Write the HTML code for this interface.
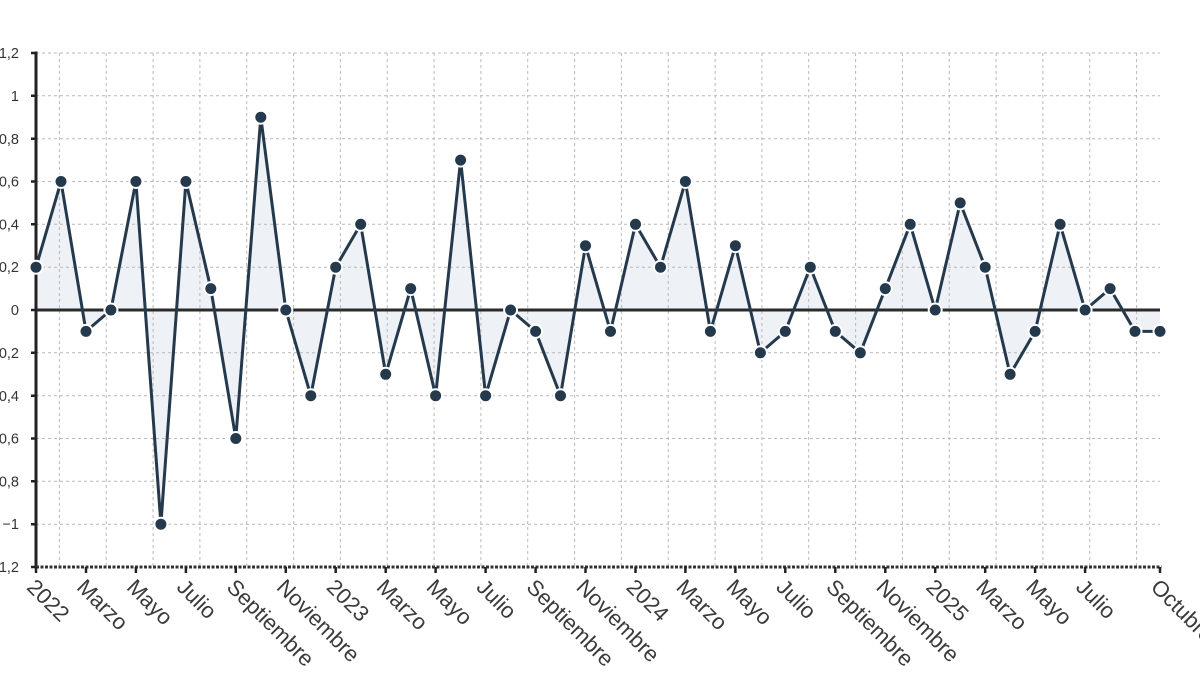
<!DOCTYPE html>
<html><head><meta charset="utf-8"><style>
html,body{margin:0;padding:0;background:#fff;width:1200px;height:675px;overflow:hidden}
svg{display:block}
text{font-family:"Liberation Sans",Arial,sans-serif}
</style></head><body>
<svg width="1200" height="675" viewBox="0 0 1200 675" xmlns="http://www.w3.org/2000/svg">
<!-- fill -->
<path fill="#eef1f5" d="M36,310 L36,267.2 L61,181.5 L86,331.4 L110.9,310 L135.9,181.5 L160.9,524.2 L185.9,181.5 L210.8,288.6 L235.8,438.5 L260.8,117.2 L285.8,310 L310.8,395.7 L335.7,267.2 L360.7,224.3 L385.7,374.3 L410.7,288.6 L435.6,395.7 L460.6,160.1 L485.6,395.7 L510.6,310 L535.6,331.4 L560.5,395.7 L585.5,245.7 L610.5,331.4 L635.5,224.3 L660.5,267.2 L685.4,181.5 L710.4,331.4 L735.4,245.7 L760.4,352.8 L785.3,331.4 L810.3,267.2 L835.3,331.4 L860.3,352.8 L885.3,288.6 L910.2,224.3 L935.2,310 L960.2,202.9 L985.2,267.2 L1010.1,374.3 L1035.1,331.4 L1060.1,224.3 L1085.1,310 L1110.1,288.6 L1135,331.4 L1160,331.4 L1160,310 Z"/>
<!-- grid -->
<g stroke="#b9b9b9" stroke-width="1" stroke-dasharray="3,3" fill="none">
<path d="M36,53H1160M36,95.8H1160M36,138.7H1160M36,181.5H1160M36,224.3H1160M36,267.2H1160M36,352.8H1160M36,395.7H1160M36,438.5H1160M36,481.3H1160M36,524.2H1160"/>
<path d="M59.4,53V567M106.2,53V567M153.1,53V567M199.9,53V567M246.7,53V567M293.6,53V567M340.4,53V567M387.2,53V567M434.1,53V567M480.9,53V567M527.7,53V567M574.6,53V567M621.4,53V567M668.2,53V567M715.1,53V567M761.9,53V567M808.7,53V567M855.6,53V567M902.4,53V567M949.2,53V567M996.1,53V567M1042.9,53V567M1089.7,53V567M1136.6,53V567"/>
</g>
<!-- zero line -->
<line x1="36" y1="310" x2="1160" y2="310" stroke="#2b2b2b" stroke-width="3"/>
<!-- axes -->
<line x1="36" y1="51.5" x2="36" y2="568.5" stroke="#222" stroke-width="3"/>
<line x1="36" y1="567" x2="1161.5" y2="567" stroke="#333" stroke-width="3" stroke-dasharray="3,1.5"/>
<g stroke="#222" stroke-width="2.5">
<path d="M31,53H36M31,95.8H36M31,138.7H36M31,181.5H36M31,224.3H36M31,267.2H36M31,310H36M31,352.8H36M31,395.7H36M31,438.5H36M31,481.3H36M31,524.2H36M31,567H36"/>
<path d="M36,567V573M86,567V573M135.9,567V573M185.9,567V573M235.8,567V573M285.8,567V573M335.7,567V573M385.7,567V573M435.6,567V573M485.6,567V573M535.6,567V573M585.5,567V573M635.5,567V573M685.4,567V573M735.4,567V573M785.3,567V573M835.3,567V573M885.3,567V573M935.2,567V573M985.2,567V573M1035.1,567V573M1085.1,567V573M1160,567V573"/>
</g>
<!-- y labels -->
<g font-size="14.5" fill="#333" text-anchor="end">
<text x="19" y="58">1,2</text>
<text x="19" y="101">1</text>
<text x="19" y="144">0,8</text>
<text x="19" y="186.5">0,6</text>
<text x="19" y="229.5">0,4</text>
<text x="19" y="272">0,2</text>
<text x="19" y="315">0</text>
<text x="19" y="358">−0,2</text>
<text x="19" y="401">−0,4</text>
<text x="19" y="443.5">−0,6</text>
<text x="19" y="486.5">−0,8</text>
<text x="19" y="529">−1</text>
<text x="19" y="572">−1,2</text>
</g>
<!-- x labels -->
<g font-size="22" fill="#3a3a3a">
<text transform="translate(37,577) rotate(45)" y="16">2022</text>
<text transform="translate(87,577) rotate(45)" y="16">Marzo</text>
<text transform="translate(136.9,577) rotate(45)" y="16">Mayo</text>
<text transform="translate(186.9,577) rotate(45)" y="16">Julio</text>
<text transform="translate(236.8,577) rotate(45)" y="16">Septiembre</text>
<text transform="translate(286.8,577) rotate(45)" y="16">Noviembre</text>
<text transform="translate(336.7,577) rotate(45)" y="16">2023</text>
<text transform="translate(386.7,577) rotate(45)" y="16">Marzo</text>
<text transform="translate(436.6,577) rotate(45)" y="16">Mayo</text>
<text transform="translate(486.6,577) rotate(45)" y="16">Julio</text>
<text transform="translate(536.6,577) rotate(45)" y="16">Septiembre</text>
<text transform="translate(586.5,577) rotate(45)" y="16">Noviembre</text>
<text transform="translate(636.5,577) rotate(45)" y="16">2024</text>
<text transform="translate(686.4,577) rotate(45)" y="16">Marzo</text>
<text transform="translate(736.4,577) rotate(45)" y="16">Mayo</text>
<text transform="translate(786.3,577) rotate(45)" y="16">Julio</text>
<text transform="translate(836.3,577) rotate(45)" y="16">Septiembre</text>
<text transform="translate(886.3,577) rotate(45)" y="16">Noviembre</text>
<text transform="translate(936.2,577) rotate(45)" y="16">2025</text>
<text transform="translate(986.2,577) rotate(45)" y="16">Marzo</text>
<text transform="translate(1036.1,577) rotate(45)" y="16">Mayo</text>
<text transform="translate(1086.1,577) rotate(45)" y="16">Julio</text>
<text transform="translate(1161,577) rotate(45)" y="16">Octubre</text>
</g>
<!-- line -->
<polyline fill="none" stroke="#25394d" stroke-width="3" stroke-linejoin="miter" points="36,267.2 61,181.5 86,331.4 110.9,310 135.9,181.5 160.9,524.2 185.9,181.5 210.8,288.6 235.8,438.5 260.8,117.2 285.8,310 310.8,395.7 335.7,267.2 360.7,224.3 385.7,374.3 410.7,288.6 435.6,395.7 460.6,160.1 485.6,395.7 510.6,310 535.6,331.4 560.5,395.7 585.5,245.7 610.5,331.4 635.5,224.3 660.5,267.2 685.4,181.5 710.4,331.4 735.4,245.7 760.4,352.8 785.3,331.4 810.3,267.2 835.3,331.4 860.3,352.8 885.3,288.6 910.2,224.3 935.2,310 960.2,202.9 985.2,267.2 1010.1,374.3 1035.1,331.4 1060.1,224.3 1085.1,310 1110.1,288.6 1135,331.4 1160,331.4"/>
<!-- markers -->
<g fill="#25394d" stroke="#fff" stroke-width="2">
<circle cx="36" cy="267.2" r="6.5"/><circle cx="61" cy="181.5" r="6.5"/><circle cx="86" cy="331.4" r="6.5"/><circle cx="110.9" cy="310" r="6.5"/><circle cx="135.9" cy="181.5" r="6.5"/><circle cx="160.9" cy="524.2" r="6.5"/><circle cx="185.9" cy="181.5" r="6.5"/><circle cx="210.8" cy="288.6" r="6.5"/><circle cx="235.8" cy="438.5" r="6.5"/><circle cx="260.8" cy="117.2" r="6.5"/><circle cx="285.8" cy="310" r="6.5"/><circle cx="310.8" cy="395.7" r="6.5"/><circle cx="335.7" cy="267.2" r="6.5"/><circle cx="360.7" cy="224.3" r="6.5"/><circle cx="385.7" cy="374.3" r="6.5"/><circle cx="410.7" cy="288.6" r="6.5"/><circle cx="435.6" cy="395.7" r="6.5"/><circle cx="460.6" cy="160.1" r="6.5"/><circle cx="485.6" cy="395.7" r="6.5"/><circle cx="510.6" cy="310" r="6.5"/><circle cx="535.6" cy="331.4" r="6.5"/><circle cx="560.5" cy="395.7" r="6.5"/><circle cx="585.5" cy="245.7" r="6.5"/><circle cx="610.5" cy="331.4" r="6.5"/><circle cx="635.5" cy="224.3" r="6.5"/><circle cx="660.5" cy="267.2" r="6.5"/><circle cx="685.4" cy="181.5" r="6.5"/><circle cx="710.4" cy="331.4" r="6.5"/><circle cx="735.4" cy="245.7" r="6.5"/><circle cx="760.4" cy="352.8" r="6.5"/><circle cx="785.3" cy="331.4" r="6.5"/><circle cx="810.3" cy="267.2" r="6.5"/><circle cx="835.3" cy="331.4" r="6.5"/><circle cx="860.3" cy="352.8" r="6.5"/><circle cx="885.3" cy="288.6" r="6.5"/><circle cx="910.2" cy="224.3" r="6.5"/><circle cx="935.2" cy="310" r="6.5"/><circle cx="960.2" cy="202.9" r="6.5"/><circle cx="985.2" cy="267.2" r="6.5"/><circle cx="1010.1" cy="374.3" r="6.5"/><circle cx="1035.1" cy="331.4" r="6.5"/><circle cx="1060.1" cy="224.3" r="6.5"/><circle cx="1085.1" cy="310" r="6.5"/><circle cx="1110.1" cy="288.6" r="6.5"/><circle cx="1135" cy="331.4" r="6.5"/><circle cx="1160" cy="331.4" r="6.5"/>
</g>
</svg>
</body></html>
